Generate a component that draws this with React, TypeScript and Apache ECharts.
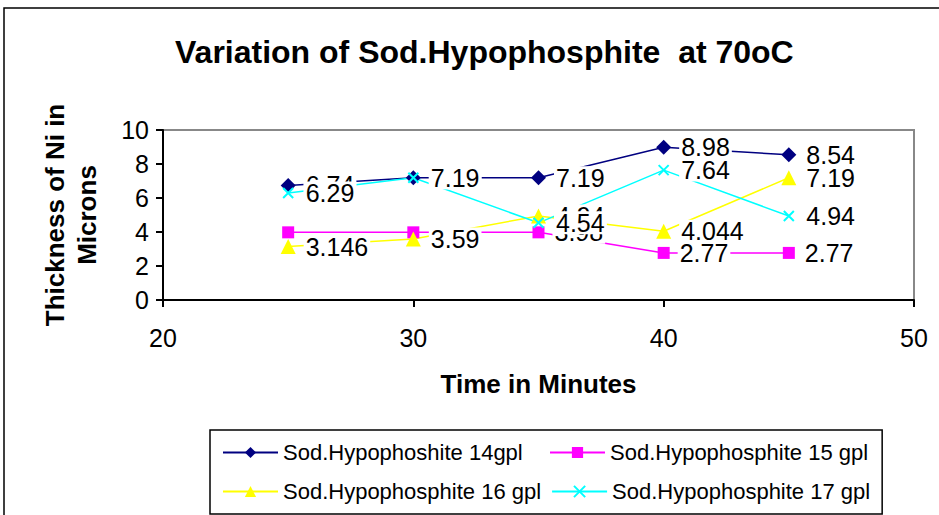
import React, { useEffect, useRef } from "react";
import * as echarts from "echarts";

const times = [25, 30, 35, 40, 45];
const s14 = [6.74, 7.19, 7.19, 8.98, 8.54];
const s15 = [3.98, 3.98, 3.98, 2.77, 2.77];
const s16 = [3.146, 3.59, 4.94, 4.044, 7.19];
const s17 = [6.29, 7.19, 4.54, 7.64, 4.94];
const names = [
  "Sod.Hypophoshite 14gpl",
  "Sod.Hypophosphite 15 gpl",
  "Sod.Hypophosphite 16 gpl",
  "Sod.Hypophosphite 17 gpl",
];
const hiddenLabels15 = [0, 1];

const FONT = "Liberation Sans, Arial, sans-serif";

export default function App() {
  const ref = useRef<HTMLDivElement>(null);
  useEffect(() => {
    if (!ref.current) return;
    const chart = echarts.init(ref.current, undefined, { renderer: "svg" });
    const label = {
      show: true,
      position: "right",
      distance: 8,
      fontFamily: FONT,
      fontSize: 25,
      color: "#000",
      backgroundColor: "#fff",
      padding: [0, 2],
      lineHeight: 23,
    };
    const mk = (name: string, vals: number[], color: string, symbol: string, size: number, hidden: number[] = []) => ({
      name,
      type: "line",
      data: vals.map((v, i) => ({
        value: [times[i], v],
        label: hidden.includes(i) ? { show: false } : undefined,
      })),
      lineStyle: { color, width: 1.5 },
      itemStyle: { color },
      symbol,
      symbolSize: size,
      showAllSymbol: true,
      label,
      emphasis: { disabled: true },
    });
    const xPath = "path://M0,0L10,10M10,0L0,10";
    chart.setOption({
      animation: false,
      textStyle: { fontFamily: FONT },
      title: {
        text: "Variation of Sod.Hypophosphite  at 70oC",
        left: 170,
        top: 31,
        textStyle: { fontFamily: FONT, fontSize: 32, fontWeight: "bold", color: "#000" },
      },
      graphic: [
        {
          type: "rect",
          shape: { x: 4, y: 8, width: 960, height: 540 },
          style: { fill: "none", stroke: "#000", lineWidth: 1.5 },
          silent: true,
        },
      ],
      grid: { left: 163, right: 25, top: 130, bottom: 215, show: true, borderColor: "#888", borderWidth: 2 },
      xAxis: {
        type: "value",
        min: 20,
        max: 50,
        interval: 10,
        name: "Time in Minutes",
        nameLocation: "middle",
        nameGap: 71,
        nameTextStyle: { fontFamily: FONT, fontSize: 26, fontWeight: "bold", color: "#000" },
        axisLine: { lineStyle: { color: "#000", width: 2 } },
        axisTick: { show: true, length: 7, lineStyle: { color: "#000", width: 2 } },
        axisLabel: { fontFamily: FONT, fontSize: 25, color: "#000", margin: 25 },
        splitLine: { show: false },
      },
      yAxis: {
        type: "value",
        min: 0,
        max: 10,
        interval: 2,
        name: "Thickness of Ni in\nMicrons",
        nameLocation: "middle",
        nameRotate: 90,
        nameGap: 60,
        nameTextStyle: { fontFamily: FONT, fontSize: 26, fontWeight: "bold", color: "#000", lineHeight: 32 },
        axisLine: { show: true, lineStyle: { color: "#000", width: 2 } },
        axisTick: { show: true, length: 7, lineStyle: { color: "#000", width: 2 } },
        axisLabel: { fontFamily: FONT, fontSize: 25, color: "#000", margin: 14 },
        splitLine: { show: false },
      },
      legend: {
        left: 210,
        top: 430,
        width: 667,
        padding: [8, 12, 8, 12],
        borderColor: "#000",
        borderWidth: 1.5,
        itemWidth: 55,
        itemHeight: 14,
        itemGap: 10,
        textStyle: { fontFamily: FONT, fontSize: 22, color: "#000", width: 256, lineHeight: 29 },
        data: names,
      },
      series: [
        mk(names[0], s14, "#000080", "diamond", 15),
        mk(names[1], s15, "#FF00FF", "rect", 12, hiddenLabels15),
        mk(names[2], s16, "#FFFF00", "triangle", 15),
        {
          ...mk(names[3], s17, "#00FFFF", xPath, 10),
          itemStyle: { color: "none", borderColor: "#00FFFF", borderWidth: 2 },
        },
      ],
    });
    return () => chart.dispose();
  }, []);
  return <div ref={ref} style={{ width: 939, height: 515, position: "absolute", left: 0, top: 0 }} />;
}
